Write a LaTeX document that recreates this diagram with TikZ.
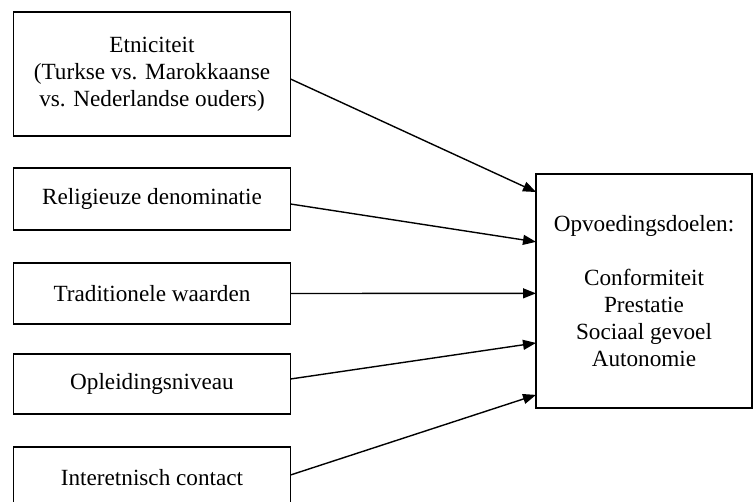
\documentclass[tikz,border=0pt]{standalone}
\usepackage{fontspec}
\setmainfont{Liberation Serif}
\usetikzlibrary{arrows.meta,calc}
\begin{document}
\begin{tikzpicture}[x=1pt,y=1pt,
  box/.style={draw=black,line width=1.4pt,fill=white,inner sep=0pt,outer sep=0pt,align=center,
    font=\fontsize{23.2}{27}\selectfont,minimum width=277pt},
  arr/.style={line width=1.4pt,-{Triangle[length=13pt,width=10pt]}}]
\clip (0,0) rectangle (756,-502);
\fill[white] (0,0) rectangle (756,-502);
\node[box,minimum height=124pt] (b1) at (152,-74) {Etniciteit\\(Turkse vs. Marokkaanse\\vs. Nederlandse ouders)};
\node[box,minimum height=62pt] (b2) at (152,-199) {Religieuze denominatie};
\node[box,minimum height=61pt] (b3) at (152,-293.5) {Traditionele waarden};
\node[box,minimum height=60pt] (b4) at (152,-384) {Opleidingsniveau};
\node[box,minimum height=62pt] (b5) at (152,-478) {Interetnisch contact};
\node[box,minimum width=216pt,minimum height=234pt] (out) at (644,-291)
  {Opvoedingsdoelen:\\[27pt]Conformiteit\\Prestatie\\Sociaal gevoel\\Autonomie};
\draw[arr] ($(b1.east)+(0,-5)$) -- ($(out.north west)!0.077!(out.south west)$);
\draw[arr] ($(b2.east)+(0,-5)$) -- ($(out.north west)!0.29!(out.south west)$);
\draw[arr] (b3.east) -- ($(out.north west)!0.51!(out.south west)$);
\draw[arr] ($(b4.east)+(0,5)$) -- ($(out.north west)!0.722!(out.south west)$);
\draw[arr] ($(b5.east)+(0,3)$) -- ($(out.north west)!0.944!(out.south west)$);
\end{tikzpicture}
\end{document}
